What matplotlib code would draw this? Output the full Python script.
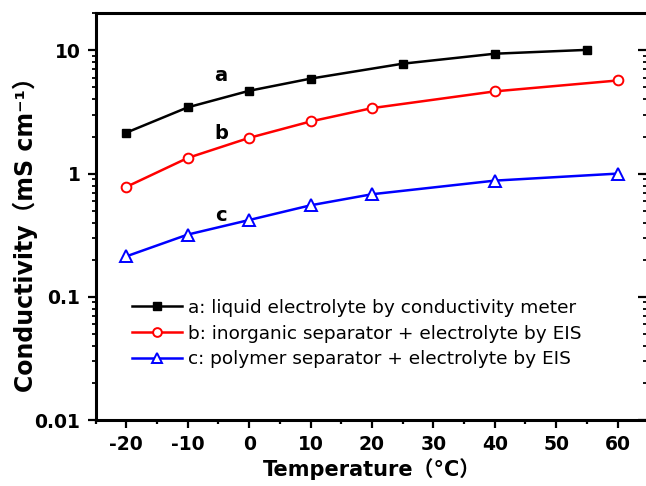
import matplotlib
matplotlib.use("Agg")
import matplotlib.pyplot as plt
from matplotlib.ticker import LogLocator, NullFormatter, FixedLocator, MultipleLocator

temp_a = [-20, -10, 0, 10, 25, 40, 55]
cond_a = [2.15, 3.45, 4.7, 5.9, 7.8, 9.4, 10.1]
temp_b = [-20, -10, 0, 10, 20, 40, 60]
cond_b = [0.78, 1.34, 1.95, 2.65, 3.4, 4.65, 5.7]
temp_c = [-20, -10, 0, 10, 20, 40, 60]
cond_c = [0.213, 0.32, 0.42, 0.553, 0.68, 0.877, 1.0]

labels = ["a: liquid electrolyte by conductivity meter",
          "b: inorganic separator + electrolyte by EIS",
          "c: polymer separator + electrolyte by EIS"]
xticks = [-20, -10, 0, 10, 20, 30, 40, 50, 60]
yticks = [0.01, 0.1, 1, 10]
ytick_labels = ["0.01", "0.1", "1", "10"]

fam = ["DejaVu Sans", "Noto Sans CJK SC"]
plt.rcParams['font.family'] = fam

fig = plt.figure(figsize=(6.46, 4.86), dpi=100)
ax = fig.add_axes([0.148, 0.1358, 0.8556, 0.8368])

ax.plot(temp_a, cond_a, color='black', lw=1.8, marker='s', ms=6.3, mfc='black', mec='black', label=labels[0])
ax.plot(temp_b, cond_b, color='red', lw=1.8, marker='o', ms=7, mfc='white', mec='red', mew=1.4, label=labels[1])
ax.plot(temp_c, cond_c, color='blue', lw=1.8, marker='^', ms=8, mfc='white', mec='blue', mew=1.4, label=labels[2])

ax.set_yscale('log')
ax.set_xlim(-25, 65)
ax.set_ylim(0.01, 20)

ax.set_xticks(xticks)
ax.set_xticklabels([str(t) for t in xticks])
ax.xaxis.set_minor_locator(MultipleLocator(5))
ax.yaxis.set_major_locator(FixedLocator(yticks))
ax.set_yticklabels(ytick_labels)
ax.yaxis.set_minor_locator(LogLocator(base=10, subs=range(2, 10)))
ax.yaxis.set_minor_formatter(NullFormatter())

for lab in ax.get_xticklabels() + ax.get_yticklabels():
    lab.set_fontweight('bold')
    lab.set_fontsize(13.5)

ax.tick_params(axis='x', which='major', direction='out', length=6, width=1.6, pad=5, top=False)
ax.tick_params(axis='x', which='minor', direction='out', length=3, width=1.6, top=False)
ax.tick_params(axis='y', which='major', direction='out', length=6, width=1.6, pad=5, right=False)
ax.tick_params(axis='y', which='minor', direction='out', length=3, width=1.3, right=False)

for s in ax.spines.values():
    s.set_linewidth(2.2)

ax.set_xlabel("Temperature（°C）", fontsize=15, fontweight='bold')
ax.set_ylabel("Conductivity（mS cm⁻¹）", fontsize=17, fontweight='bold')
ax.xaxis.set_label_coords(0.5, -0.093)
ax.yaxis.set_label_coords(-0.104, 0.47)

ax.text(-4.6, 6.3, "a", fontsize=14, fontweight='bold', ha='center', va='center')
ax.text(-4.6, 2.1, "b", fontsize=14, fontweight='bold', ha='center', va='center')
ax.text(-4.6, 0.46, "c", fontsize=14, fontweight='bold', ha='center', va='center')

leg = ax.legend(loc='upper left', bbox_to_anchor=(0.066, 0.298), frameon=False, fontsize=13.3,
                handlelength=2.7, handletextpad=0.3, labelspacing=0.42, borderaxespad=0,
                borderpad=0, markerscale=0.9)

# right-side inward ticks (axis extends slightly past the image edge)
ax2 = ax.twinx()
ax2.set_yscale('log')
ax2.set_ylim(ax.get_ylim())
ax2.yaxis.set_major_locator(FixedLocator(yticks))
ax2.yaxis.set_minor_locator(LogLocator(base=10, subs=range(2, 10)))
ax2.yaxis.set_major_formatter(NullFormatter())
ax2.yaxis.set_minor_formatter(NullFormatter())
ax2.tick_params(axis='y', which='major', direction='in', length=7, width=1.6)
ax2.tick_params(axis='y', which='minor', direction='in', length=3.5, width=1.3)
for s in ax2.spines.values():
    s.set_visible(False)

fig.savefig("out.png", dpi=100)
